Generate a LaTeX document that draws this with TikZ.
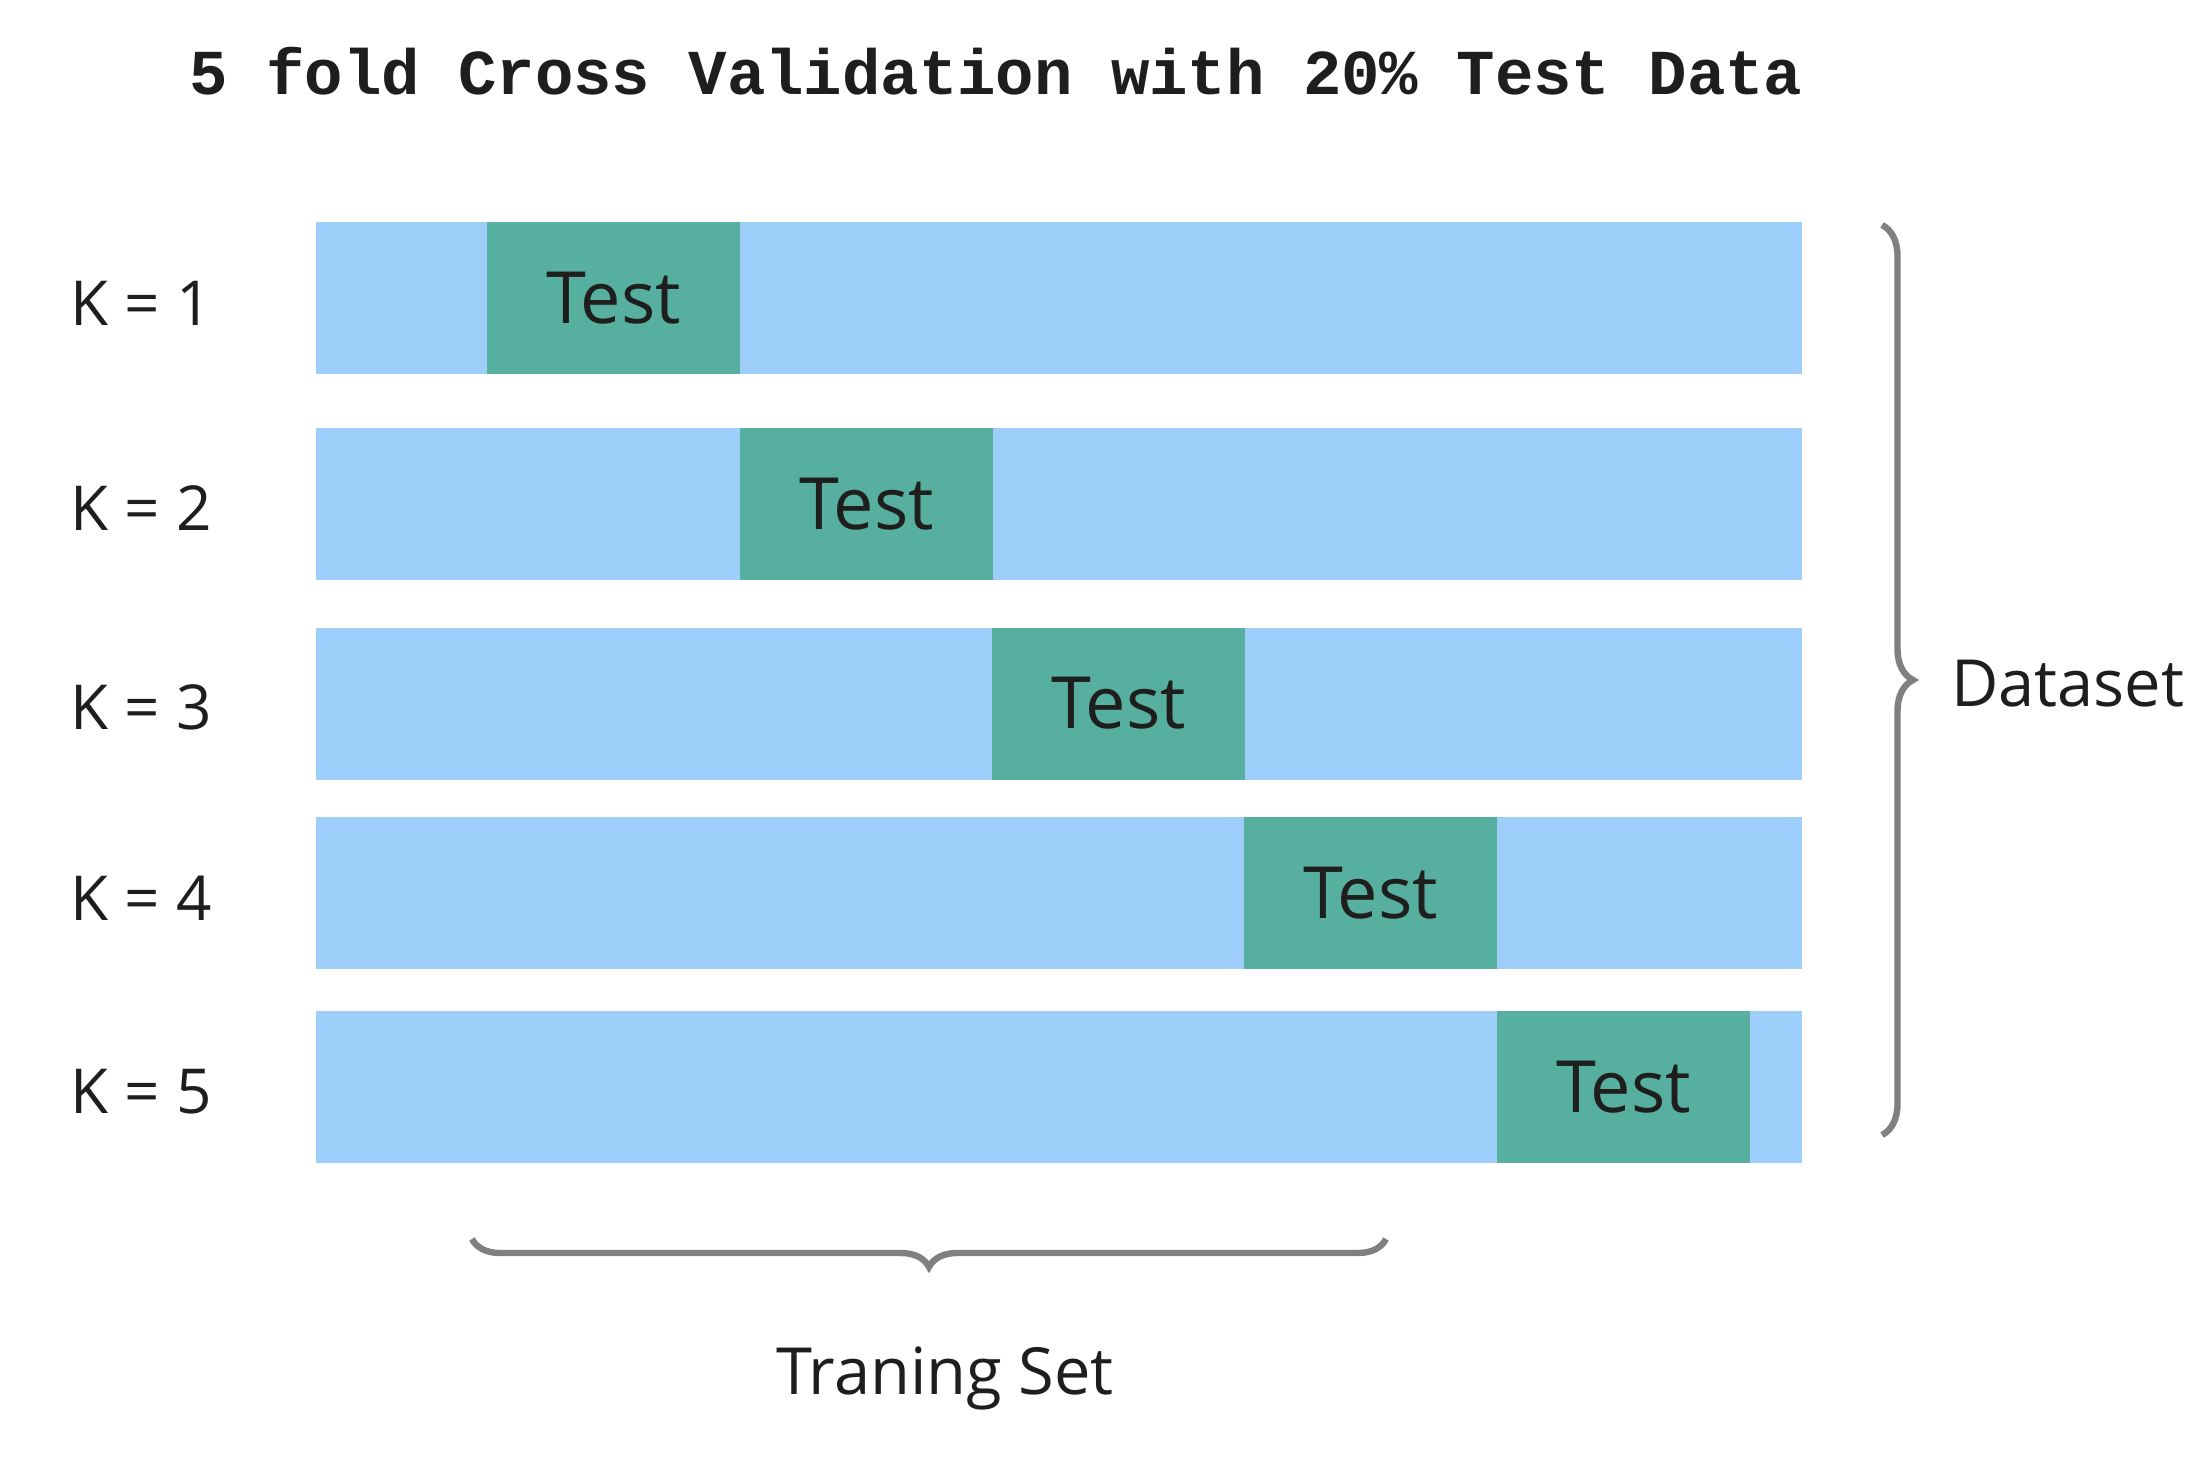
\documentclass[tikz,border=0pt]{standalone}
\usepackage{fontspec}
\setmainfont{Open Sans}
\newfontfamily\titlefont{Liberation Mono}
\usetikzlibrary{decorations.pathreplacing}
\definecolor{trainblue}{HTML}{9ECFFA}
\definecolor{testgreen}{HTML}{57AFA0}
\definecolor{bracegray}{HTML}{808080}
\definecolor{ink}{HTML}{1E1E1E}
\begin{document}
\begin{tikzpicture}[x=0.5pt,y=-0.5pt,
  bar/.style={fill=trainblue, draw=none, inner sep=0pt, outer sep=0pt,
    minimum width=743pt, minimum height=76pt},
  testbox/.style={fill=testgreen, draw=none, inner sep=0pt, outer sep=0pt,
    minimum width=126.5pt, minimum height=76pt, text=ink,
    font=\fontsize{36}{40}\selectfont},
  klabel/.style={text=ink, font=\fontsize{31}{36}\selectfont},
  sidelabel/.style={text=ink, font=\fontsize{32.5}{38}\selectfont},
  titlestyle/.style={text=ink, font=\titlefont\bfseries\fontsize{32}{36}\selectfont},
  bracestyle/.style={draw=bracegray, line width=3.2pt,
    decorate, decoration={brace, amplitude=#1}}
]
\useasboundingbox (0,0) rectangle (2202,1466);

\node[titlestyle] (title) at (996,71) {5 fold Cross Validation with 20\% Test Data};

% rows
\node[bar] (b1) at (1059,298.5) {};
\node[bar] (b2) at (1059,504) {};
\node[bar] (b3) at (1059,703.5) {};
\node[bar] (b4) at (1059,893) {};
\node[bar] (b5) at (1059,1087) {};

\node[testbox] (t1) at (613.5,298.5) {Test};
\node[testbox] (t2) at (866.5,504) {Test};
\node[testbox] (t3) at (1118.5,703.5) {Test};
\node[testbox] (t4) at (1370.5,893) {Test};
\node[testbox] (t5) at (1623.5,1087) {Test};

\node[klabel] (k1) at (141,303) {K = 1};
\node[klabel] (k2) at (141,508) {K = 2};
\node[klabel] (k3) at (141,707) {K = 3};
\node[klabel] (k4) at (141,898) {K = 4};
\node[klabel] (k5) at (141,1092) {K = 5};

% dataset brace
\coordinate (dtop) at (1882,225);
\coordinate (dbot) at (1882,1135);
\draw[bracestyle=15.5pt] (dtop) -- (dbot);
\node[sidelabel, anchor=west] (dataset) at (1944,684) {Dataset};

% training brace
\coordinate (tl) at (472,1239);
\coordinate (tr) at (1386,1239);
\draw[bracestyle=14pt, decoration={mirror}] (tl) -- (tr);
\node[sidelabel] (train) at (945,1378) {Traning Set};
\end{tikzpicture}
\end{document}
